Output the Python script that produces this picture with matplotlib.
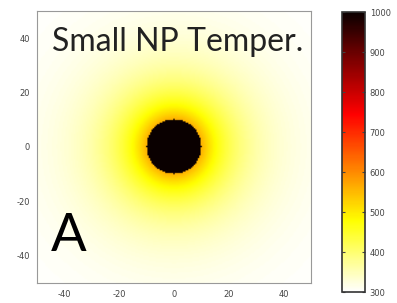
import numpy as np
import matplotlib
matplotlib.use("Agg")
import matplotlib.pyplot as plt

plt.rcParams['axes.unicode_minus'] = False

# values
np_radius = 10.0        # radius of the black (hot) particle
t_particle = 1000.0     # temperature inside the particle (top of scale)
t_surface = 560.0       # temperature just outside the particle
t_ambient = 300.0       # far-field temperature
decay_len = 14.0        # fall-off length of the warm halo
x_ticks = [-40, -20, 0, 20, 40]
y_ticks = [-40, -20, 0, 20, 40]
cbar_ticks = [300, 400, 500, 600, 700, 800, 900, 1000]
title_text = "Small NP Temper."
panel_label = "A"

# temperature field around the particle
x = np.linspace(-50, 50, 201)
y = np.linspace(-50, 50, 201)
xx, yy = np.meshgrid(x, y)
r = np.hypot(xx, yy)
temp = t_ambient + (t_surface - t_ambient) * np.exp(-(np.maximum(r, np_radius) - np_radius) / decay_len)
temp[r <= np_radius] = t_particle

fig = plt.figure(figsize=(3.97, 3.03), dpi=100)
ax = fig.add_axes([0.093, 0.066, 0.690, 0.898])
im = ax.imshow(temp, cmap="hot_r", vmin=300, vmax=1000, origin="lower",
               extent=[-50, 50, -50, 50], aspect="auto", interpolation="bilinear")
ax.set_xticks(x_ticks)
ax.set_yticks(y_ticks)
ax.tick_params(direction="in", length=0, labelsize=6, colors="#444444", pad=5)
for s in ax.spines.values():
    s.set_color("#999999")
    s.set_linewidth(0.8)

ax.text(-44.5, 38.5, title_text, fontsize=23, family="Lato", color="#222222",
        va="center", ha="left")
ax.text(-45, -33, panel_label, fontsize=38, family="Lato", color="black",
        va="center", ha="left")

cax = fig.add_axes([0.861, 0.036, 0.058, 0.924])
cb = fig.colorbar(im, cax=cax, ticks=cbar_ticks)
cb.outline.set_linewidth(1.2)
cb.outline.set_edgecolor("#333333")
cax.tick_params(direction="in", length=2, labelsize=6, colors="#444444",
                left=True, right=True)

fig.savefig("out.png", dpi=100)
